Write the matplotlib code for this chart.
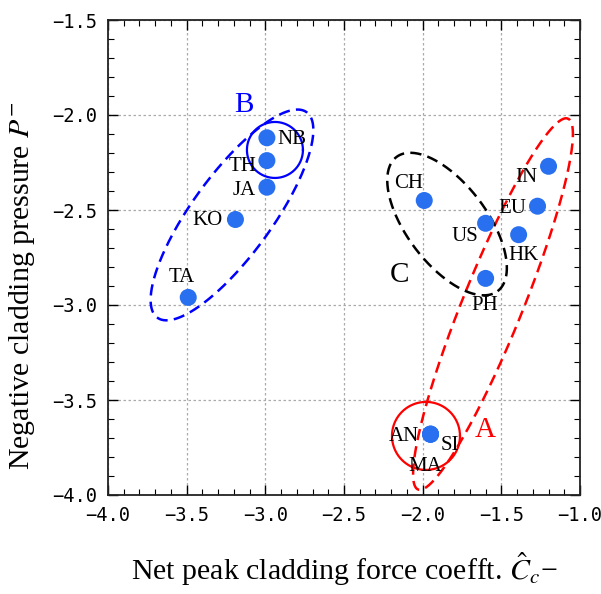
import numpy as np
import matplotlib
matplotlib.use("Agg")
import matplotlib.pyplot as plt
from matplotlib.ticker import MultipleLocator, FuncFormatter

plt.rcParams['mathtext.fontset'] = 'stix'

# country codes and their coordinates
codes = ['NB', 'TH', 'JA', 'KO', 'TA', 'CH', 'US', 'EU', 'IN', 'HK', 'PH', 'AN', 'SI', 'MA']
cc = [-2.99, -2.99, -2.99, -3.19, -3.49, -1.99, -1.60, -1.27, -1.20, -1.39, -1.60, -1.95, -1.95, -1.95]
pm = [-2.12, -2.24, -2.38, -2.55, -2.96, -2.45, -2.57, -2.48, -2.27, -2.63, -2.86, -3.68, -3.68, -3.68]
# label offsets in pixels
lab_dx = [25, -24, -23, -28, -6, -16, -21, -25, -22, 5, -1, -27, 19, -5]
lab_dy = [-2, -6, -3, -1, 20, 17, -13, -2, -11, -21, -27, -2, -11, -32]

# group letters
grp_txt = ['A', 'B', 'C']
grp_x = [-1.604, -3.136, -2.150]
grp_y = [-3.658, -1.947, -2.842]
grp_col = ['red', 'blue', 'black']

# dashed ellipses: centre (data), semi axes (px), angle (deg, on screen)
ell_cx = [-1.553, -3.212, -1.845]
ell_cy = [-2.995, -2.526, -2.574]
ell_a = [200, 127, 84]
ell_b = [30, 40, 40]
ell_ang = [68, 54, -53]
ell_col = ['red', 'blue', 'black']

# solid circles
circ_cx = [-1.979, -2.939]
circ_cy = [-3.689, -2.184]
circ_r = [34, 28]
circ_col = ['red', 'blue']

fig = plt.figure(figsize=(6.01, 5.94), dpi=100)
ax = fig.add_axes([108/601, 1-495/594, 472/601, 475/594])
ax.set_xlim(-4.0, -1.0)
ax.set_ylim(-4.0, -1.5)

ax.xaxis.set_major_locator(MultipleLocator(0.5))
ax.yaxis.set_major_locator(MultipleLocator(0.5))
ax.xaxis.set_minor_locator(MultipleLocator(0.1))
ax.yaxis.set_minor_locator(MultipleLocator(0.1))
fmt = FuncFormatter(lambda v, p: ('\u2212' if v < 0 else '') + '%.1f' % abs(v))
ax.xaxis.set_major_formatter(fmt)
ax.yaxis.set_major_formatter(fmt)
ax.tick_params(which='both', direction='in', top=True, right=True)
ax.tick_params(which='major', length=7, width=1, pad=8)
ax.tick_params(which='minor', length=4, width=0.8)
for t in ax.get_xticklabels() + ax.get_yticklabels():
    t.set_family('DejaVu Sans Mono')
    t.set_fontsize(13.5)
for s in ax.spines.values():
    s.set_color('#222222')
    s.set_linewidth(1.3)
ax.grid(True, which='major', color='#aaaaaa', linestyle=(0, (2, 2)), linewidth=0.9)
ax.set_axisbelow(True)

t = np.linspace(0, 2*np.pi, 400)
for cx, cy, a, b, ang, col in zip(ell_cx, ell_cy, ell_a, ell_b, ell_ang, ell_col):
    th = np.radians(ang)
    dx = a*np.cos(t)*np.cos(th) - b*np.sin(t)*np.sin(th)
    dy = a*np.cos(t)*np.sin(th) + b*np.sin(t)*np.cos(th)
    c0 = ax.transData.transform((cx, cy))
    pts = ax.transData.inverted().transform(np.column_stack([c0[0]+dx, c0[1]+dy]))
    ax.plot(pts[:, 0], pts[:, 1], color=col, lw=1.8, linestyle=(0, (4.5, 2.5)))

for cx, cy, r, col in zip(circ_cx, circ_cy, circ_r, circ_col):
    c0 = ax.transData.transform((cx, cy))
    pts = ax.transData.inverted().transform(np.column_stack([c0[0]+r*np.cos(t), c0[1]+r*np.sin(t)]))
    ax.plot(pts[:, 0], pts[:, 1], color=col, lw=1.6)

ax.scatter(cc, pm, s=150, color='#2870f0', zorder=5, edgecolors='none')

for lab, x, y, dx, dy in zip(codes, cc, pm, lab_dx, lab_dy):
    ax.annotate(lab, (x, y), xytext=(dx, dy), textcoords='offset pixels',
                ha='center', va='center', fontsize=15, family='Liberation Serif', zorder=6)

for txt, x, y, col in zip(grp_txt, grp_x, grp_y, grp_col):
    ax.text(x, y, txt, color=col, ha='center', va='center', fontsize=21, family='Liberation Serif')

ax.set_xlabel(r'Net peak cladding force coefft. $\hat{C}_c$' + '\u2212',
              family='Liberation Serif', fontsize=21.5, labelpad=18)
ax.set_ylabel('Negative cladding pressure ' + r'$P^{-}$',
              family='Liberation Serif', fontsize=21.5)
ax.yaxis.set_label_coords(-0.15, 0.44)

fig.savefig('out.png', dpi=100)
